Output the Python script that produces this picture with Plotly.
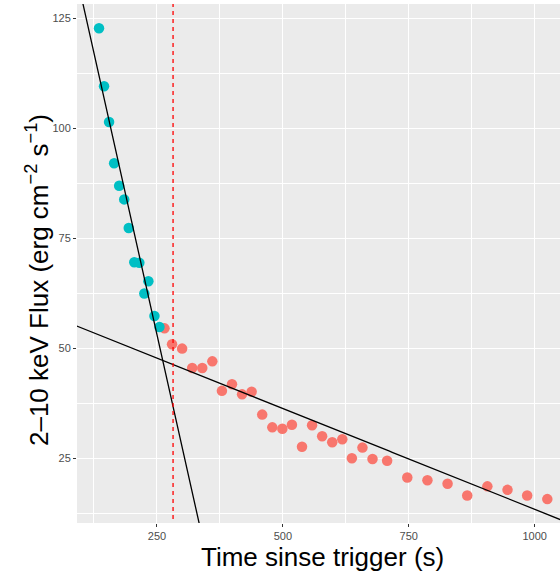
import numpy as np
import plotly.graph_objects as go

# Data
time_early = [135, 145, 155, 165, 175, 185, 194, 205, 215, 225, 233, 245, 255]
flux_early = [122.7, 109.5, 101.4, 92.0, 86.9, 83.8, 77.3, 69.5, 69.4, 62.4, 65.2, 57.3, 54.8]

time_late = [265, 280, 300, 320, 340, 360, 379, 399, 419, 438, 459, 479, 499, 518, 538,
             558, 578, 598, 618, 637, 658, 678, 707, 747, 787, 827, 866, 906, 946, 985, 1025]
flux_late = [54.5, 50.9, 49.9, 45.5, 45.5, 47.0, 40.3, 41.8, 39.5, 40.1, 34.9, 32.0, 31.7, 32.6, 27.6,
             32.5, 30.0, 28.6, 29.3, 25.0, 27.4, 24.8, 24.4, 20.6, 20.0, 19.2, 16.5, 18.6, 17.8, 16.5, 15.7]

# Fitted lines (intercept, slope)
fit_early = (181.0, -0.5116)
fit_late = (59.18, -0.0458)
break_time = 282

x_range = [91.3, 1050.2]
y_range = [10.27, 128.2]

xs = np.linspace(x_range[0] - 50, x_range[1] + 50, 200)

fig = go.Figure()
fig.add_trace(go.Scatter(x=time_late, y=flux_late, mode="markers",
                         marker=dict(color="#F8766D", size=10.5, line=dict(width=0)),
                         showlegend=False))
fig.add_trace(go.Scatter(x=time_early, y=flux_early, mode="markers",
                         marker=dict(color="#00BFC4", size=10.5, line=dict(width=0)),
                         showlegend=False))
for (a, b) in [fit_early, fit_late]:
    fig.add_trace(go.Scatter(x=xs, y=a + b * xs, mode="lines",
                             line=dict(color="black", width=1.3),
                             showlegend=False, hoverinfo="skip"))
fig.add_trace(go.Scatter(x=[break_time, break_time], y=[y_range[0] - 10, y_range[1] + 10],
                         mode="lines", line=dict(color="#FF0000", width=1.3, dash="4px,4px"),
                         showlegend=False))

axis_common = dict(
    showgrid=True, gridcolor="white", gridwidth=1.1,
    zeroline=False, showline=False,
    ticks="outside", ticklen=3, tickwidth=1, tickcolor="#333333",
    tickfont=dict(family="Liberation Sans, Arial", size=11, color="#4D4D4D"),
)

title_font = dict(family="Liberation Sans, Arial", size=26, color="black")

fig.update_layout(
    width=560, height=573,
    margin=dict(l=77, r=0, t=4, b=50),
    paper_bgcolor="white", plot_bgcolor="#EBEBEB",
    font=dict(family="Liberation Sans, Arial"),
    xaxis=dict(range=x_range, tickmode="linear", tick0=0, dtick=250,
               minor=dict(dtick=125, tick0=0, showgrid=True, gridcolor="white", gridwidth=0.5, ticks=""),
               **axis_common),
    yaxis=dict(range=y_range, tickmode="linear", tick0=0, dtick=25,
               minor=dict(dtick=12.5, tick0=0, showgrid=True, gridcolor="white", gridwidth=0.5, ticks=""),
               **axis_common),
    annotations=[
        dict(text="Time sinse trigger (s)", xref="paper", yref="paper",
             x=0.509, y=-0.0655, xanchor="center", yanchor="middle",
             showarrow=False, font=title_font),
        dict(text="2\u201310 keV Flux (erg cm<sup>\u22122</sup> s<sup>\u22121</sup>)",
             xref="paper", yref="paper", x=-0.083, y=0.468,
             xanchor="center", yanchor="middle", textangle=-90,
             showarrow=False, font=title_font),
    ],
)

fig.write_html("out.html")
